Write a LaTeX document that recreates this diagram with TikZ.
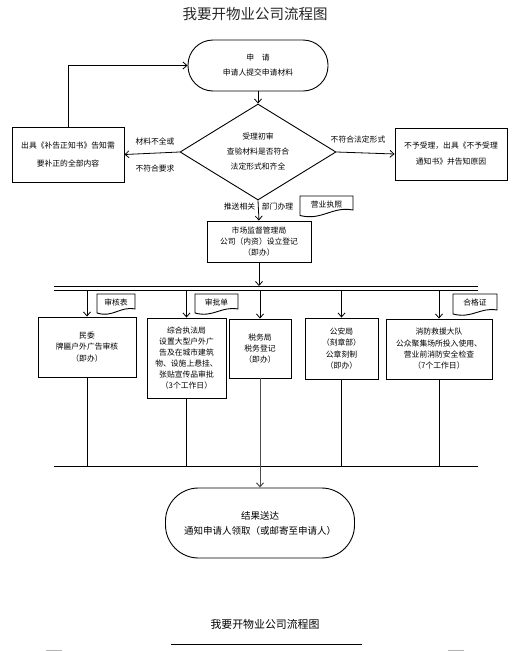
\documentclass[tikz,border=0pt]{standalone}
\usepackage{fontspec}
\setmainfont{Noto Sans CJK SC}
\usetikzlibrary{arrows.meta,shapes.geometric}
\begin{document}
\begin{tikzpicture}[x=1pt,y=-1pt,line width=0.8pt,
  arr/.style={-{Straight Barb[length=4pt,width=7pt]}},
  txt/.style={font=\fontsize{7.8}{11.3}\selectfont,align=center,inner sep=0pt},
  box/.style={draw,line width=0.9pt,align=center,inner sep=0pt,font=\fontsize{7.8}{11.3}\selectfont},
  term/.style={draw,line width=0.9pt,align=center,inner sep=0pt},
  docshape/.style={draw,line width=0.9pt}
]
\useasboundingbox (0,0) rectangle (530,651);
% titles
\node[inner sep=0pt,text=black!85,font=\fontsize{14.5}{16}\selectfont] (title) at (255,14) {我要开物业公司流程图};
% start
\node[term,minimum width=140pt,minimum height=51pt,rounded corners=25pt,font=\fontsize{7.8}{15}\selectfont] (start) at (258,65.5) {申\quad 请\\申请人提交申请材料};
% diamond
\node[draw,line width=0.9pt,shape=diamond,minimum width=156pt,minimum height=96pt,inner sep=0pt] (chk) at (258,152) {};
\node[txt,font=\fontsize{7.8}{15}\selectfont] (chkt) at (chk.center) {受理初审\\查验材料是否符合\\法定形式和齐全};
% left and right
\node[box,minimum width=112pt,minimum height=55pt,font=\fontsize{7.8}{18}\selectfont] (left) at (68,154.5) {出具《补告正知书》告知需\\要补正的全部内容};
\node[box,minimum width=112pt,minimum height=52pt,font=\fontsize{7.8}{16}\selectfont] (right) at (451,154) {不予受理，出具《不予受理\\通知书》并告知原因};
% market
\node[box,minimum width=104pt,minimum height=41pt,font=\fontsize{7.8}{11}\selectfont] (market) at (259,241.5) {市场监督管理局\\公司（内资）设立登记\\（即办）};
% row boxes
\node[box,minimum width=98pt,minimum height=60pt] (b1) at (87,347) {民委\\牌匾户外广告审核\\（即办）};
\node[box,minimum width=79pt,minimum height=80pt,font=\fontsize{7.8}{10.9}\selectfont] (b2) at (186.5,358) {综合执法局\\设置大型户外广\\告及在城市建筑\\物、设施上悬挂、\\张贴宣传品审批\\（3个工作日）};
\node[box,minimum width=62pt,minimum height=59pt] (b3) at (260,348.5) {税务局\\税务登记\\（即办）};
\node[box,minimum width=73pt,minimum height=61pt] (b4) at (341.5,348.5) {公安局\\（刻章部）\\公章刻制\\（即办）};
\node[box,minimum width=106pt,minimum height=60pt] (b5) at (439,349) {消防救援大队\\公众聚集场所投入使用、\\营业前消防安全检查\\（7个工作日）};
% end
\node[term,minimum width=189pt,minimum height=70pt,rounded corners=33pt,font=\fontsize{9.5}{15}\selectfont] (end) at (260,523) {结果送达\\通知申请人领取（或邮寄至申请人）};
% bottom title
\node[inner sep=0pt,font=\fontsize{10.9}{12}\selectfont] (btitle) at (265,624) {我要开物业公司流程图};
\coordinate (ul1) at (171,644);
\coordinate (ul2) at (362,644);
\draw[line width=1pt] (ul1) -- (ul2);
\coordinate (m1a) at (46,650.5); \coordinate (m1b) at (62,650.5);
\coordinate (m2a) at (448,650.5); \coordinate (m2b) at (464,650.5);
\draw[black!30,line width=1pt] (m1a) -- (m1b) (m2a) -- (m2b);
% connectors top part
\draw[arr] (start.south) -- (chk.north);
\draw[arr] (chk.west) -- (left.east);
\draw[arr] (chk.east) -- (right.west);
\draw[arr] (left.north) |- (start.west);
\draw[arr] (chk.south) -- (market.north);
\node[txt] (lb1) at (155,141) {材料不全或};
\node[txt] (lb2) at (155,169) {不符合要求};
\node[txt] (lb3) at (358,140) {不符合法定形式};
\node[txt,anchor=east] (lb4) at (255.5,207) {推送相关};
\node[txt,anchor=west] (lb5) at (261.5,207) {部门办理};
% document shapes
\draw[docshape] (300,196) -- (353,196) -- (353,210) .. controls (332,206) and (322,221) .. (300,215.5) -- cycle;
\node[txt] (doc1) at (326.5,205) {营业执照};
\draw[docshape] (97,294) -- (135,294) -- (135,309) .. controls (120,306) and (113,318) .. (97,313) -- cycle;
\node[txt] (doc2) at (116,302.5) {审核表};
\draw[docshape] (195,294) -- (238,294) -- (238,309) .. controls (221,306) and (213,318) .. (195,313) -- cycle;
\node[txt] (doc3) at (216.5,302.5) {审批单};
\draw[docshape] (453,294) -- (497,294) -- (497,310) .. controls (480,307) and (472,319) .. (453,314) -- cycle;
\node[txt] (doc4) at (475,303) {合格证};
% double lines
\coordinate (d1a) at (54,286); \coordinate (d1b) at (478,286);
\coordinate (d2a) at (54,290); \coordinate (d2b) at (478,290);
\draw (d1a) -- (d1b);
\draw (d2a) -- (d2b);
\draw[arr] (market.south) -- (market.south |- d1a);
\draw[arr] (b1.north |- d2a) -- (b1.north);
\draw[arr] (b2.north |- d2a) -- (b2.north);
\draw[arr] (b3.north |- d2a) -- (b3.north);
\draw[arr] (b4.north |- d2a) -- (b4.north);
\draw[arr] (b5.north |- d2a) -- (b5.north);
% bottom collector
\coordinate (bla) at (54,466); \coordinate (blb) at (478,466);
\draw (bla) -- (blb);
\draw (b1.south) -- (b1.south |- bla);
\draw (b2.south) -- (b2.south |- bla);
\draw (b4.south) -- (b4.south |- bla);
\draw (b5.south) -- (b5.south |- bla);
\draw[arr,black!70,line width=1pt] (b3.south) -- (end.north);
\end{tikzpicture}
\end{document}
